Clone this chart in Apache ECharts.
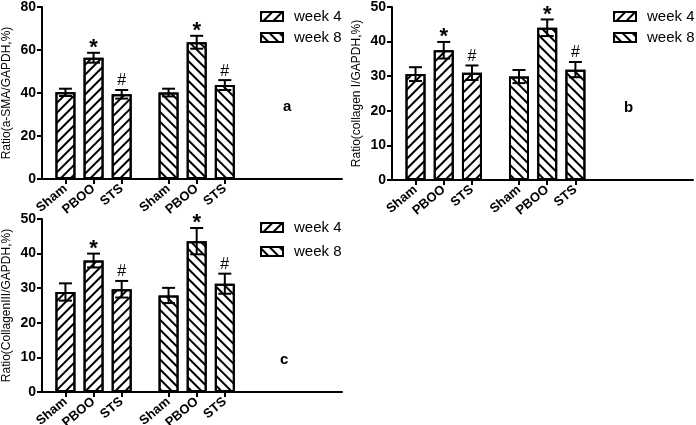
<!DOCTYPE html>
<html>
<head>
<meta charset="utf-8">
<script src="https://cdn.jsdelivr.net/npm/echarts@6/dist/echarts.min.js"></script>
<style>html,body{margin:0;padding:0;background:#fff}#c{width:696px;height:425px}</style>
</head>
<body>
<div id="c"></div>
<script>
// ---- data ----
const groups = ['Sham', 'PBOO', 'STS'];
const weekNames = ['week 4', 'week 8'];
const marks = ['', '*', '#'];

const aWeek4 = [40.3, 56.4, 39.4];
const aWeek4Err = [1.7, 2.3, 2.0];
const aWeek8 = [40.2, 63.6, 43.7];
const aWeek8Err = [1.8, 3.0, 2.3];

const bWeek4 = [30.6, 37.5, 31.0];
const bWeek4Err = [2.0, 2.4, 2.1];
const bWeek8 = [29.9, 44.0, 31.9];
const bWeek8Err = [1.9, 2.4, 2.2];

const cWeek4 = [28.9, 38.0, 29.7];
const cWeek4Err = [2.5, 2.0, 2.4];
const cWeek8 = [27.9, 43.6, 31.3];
const cWeek8Err = [2.2, 3.8, 2.9];

const aTicks = [0, 20, 40, 60, 80];
const bTicks = [0, 10, 20, 30, 40, 50];
const cTicks = [0, 10, 20, 30, 40, 50];

const aName = 'Ratio(a-SMA/GAPDH,%)';
const bName = 'Ratio(collagen I/GAPDH,%)';
const cName = 'Ratio(CollagenIII/GAPDH,%)';
const panelLetters = ['a', 'b', 'c'];

// ---- layout helpers ----
const NSLOT = 32;
const slotIdx = [2, 5, 8, 13, 16, 19];
const slotSet = new Set(slotIdx);
const FONT = 'Liberation Sans, Arial, sans-serif';

const cats = [];
for (let i = 0; i < NSLOT; i++) cats.push('');
slotIdx.forEach((s, j) => { cats[s] = groups[j % 3]; });

function decal(rot) {
  return { symbol: 'rect', symbolSize: 1, dashArrayX: [1, 0], dashArrayY: [2, 5], rotation: rot, color: '#000' };
}

const grids = [], xAxes = [], yAxes = [], legends = [], series = [];

function addPanel(k, grid, ticks, yName, w4, e4, w8, e8, legendPos, legendGap) {
  grids.push(Object.assign({ containLabel: false, outerBoundsMode: 'none' }, grid));
  xAxes.push({
    type: 'category', gridIndex: k, data: cats,
    axisLine: { lineStyle: { color: '#000', width: 2 } },
    axisTick: { show: true, alignWithLabel: true, length: 5, lineStyle: { color: '#000', width: 2 },
      interval: (i) => slotSet.has(i) },
    axisLabel: { interval: (i) => slotSet.has(i), rotate: 40, margin: 8, color: '#000',
      fontFamily: FONT, fontWeight: 'bold', fontSize: 13, hideOverlap: false },
    splitLine: { show: false }
  });
  const maxV = ticks[ticks.length - 1];
  yAxes.push({
    type: 'value', gridIndex: k, min: 0, max: maxV, interval: ticks[1] - ticks[0],
    name: yName, nameLocation: 'middle', nameGap: 29,
    nameTextStyle: { color: '#000', fontFamily: FONT, fontSize: 12 },
    axisLine: { show: true, lineStyle: { color: '#000', width: 2 } },
    axisTick: { show: true, length: 5, lineStyle: { color: '#000', width: 2 } },
    axisLabel: { color: '#000', fontFamily: FONT, fontWeight: 'bold', fontSize: 14, margin: 6 },
    splitLine: { show: false }
  });
  legends.push(Object.assign({
    orient: 'vertical', itemWidth: 22, itemHeight: 9, itemGap: legendGap,
    selectedMode: false, icon: 'rect',
    textStyle: { color: '#000', fontFamily: FONT, fontSize: 15, padding: [0, 0, 0, 6] },
    data: weekNames
  }, legendPos));

  const d4 = cats.map(() => null), d8 = cats.map(() => null);
  const errData = [];
  for (let j = 0; j < 3; j++) {
    d4[slotIdx[j]] = w4[j];
    d8[slotIdx[j + 3]] = w8[j];
    errData.push([slotIdx[j], w4[j], e4[j], marks[j]]);
    errData.push([slotIdx[j + 3], w8[j], e8[j], marks[j]]);
  }
  const barBase = {
    type: 'bar', xAxisIndex: k, yAxisIndex: k, barWidth: 20, barGap: '-100%',
    animation: false, silent: true
  };
  series.push(Object.assign({}, barBase, {
    name: weekNames[0], data: d4,
    itemStyle: { color: '#fff', borderColor: '#000', borderWidth: 2, decal: decal(-Math.PI / 4) }
  }));
  series.push(Object.assign({}, barBase, {
    name: weekNames[1], data: d8,
    itemStyle: { color: '#fff', borderColor: '#000', borderWidth: 2, decal: decal(Math.PI / 4) }
  }));
  series.push({
    type: 'custom', xAxisIndex: k, yAxisIndex: k, animation: false, silent: true, z: 5,
    data: errData,
    encode: { x: 0, y: 1 },
    renderItem: function (params, api) {
      const x = api.value(0), m = api.value(1), e = api.value(2);
      const mk = errData[params.dataIndex][3];
      const hi = api.coord([x, m + e]);
      const lo = api.coord([x, m - e]);
      const cx = hi[0], hw = 6.5;
      const st = { stroke: '#000', lineWidth: 2, fill: null };
      const ch = [
        { type: 'line', shape: { x1: cx, y1: hi[1], x2: cx, y2: lo[1] }, style: st },
        { type: 'line', shape: { x1: cx - hw, y1: hi[1], x2: cx + hw, y2: hi[1] }, style: st },
        { type: 'line', shape: { x1: cx - hw, y1: lo[1], x2: cx + hw, y2: lo[1] }, style: st }
      ];
      if (mk === '*') {
        ch.push({ type: 'text', style: { text: '*', x: cx, y: hi[1] - 5, align: 'center', verticalAlign: 'middle',
          font: 'bold 22px ' + FONT, fill: '#000' } });
      } else if (mk === '#') {
        ch.push({ type: 'text', style: { text: '#', x: cx, y: hi[1] - 9, align: 'center', verticalAlign: 'middle',
          font: '16px ' + FONT, fill: '#000' } });
      }
      return { type: 'group', children: ch };
    }
  });
}

addPanel(0, { left: 42, top: 7, width: 300, height: 172 }, aTicks, aName,
  aWeek4, aWeek4Err, aWeek8, aWeek8Err, { left: 255, top: 4 }, 6);
addPanel(1, { left: 392, top: 7, width: 301, height: 173 }, bTicks, bName,
  bWeek4, bWeek4Err, bWeek8, bWeek8Err, { left: 608, top: 4 }, 6);
addPanel(2, { left: 42, top: 219, width: 300, height: 173 }, cTicks, cName,
  cWeek4, cWeek4Err, cWeek8, cWeek8Err, { left: 255, top: 215 }, 9);

const letterPos = [[287, 107], [628, 108], [284, 360]];
const graphic = panelLetters.map((t, i) => ({
  type: 'text', left: letterPos[i][0] - 4, top: letterPos[i][1] - 8,
  style: { text: t, font: 'bold 15px ' + FONT, fill: '#000' }
}));

const chart = echarts.init(document.getElementById('c'), null, { renderer: 'canvas' });
chart.setOption({
  backgroundColor: '#fff',
  animation: false,
  grid: grids, xAxis: xAxes, yAxis: yAxes, legend: legends, series: series,
  graphic: graphic
});
</script>
</body>
</html>
